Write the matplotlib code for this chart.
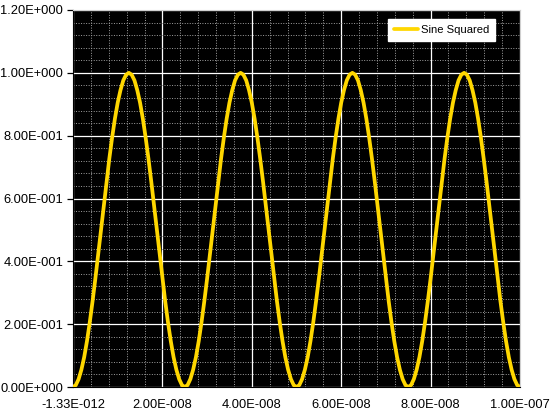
import numpy as np
import matplotlib.pyplot as plt
from matplotlib.ticker import FixedLocator, MultipleLocator

plt.rcParams['font.family'] = ['Liberation Sans', 'DejaVu Sans']

# sine squared samples, 4 periods over 0 .. 1e-7 s
x_start = 0.0
x_end = 1.0e-7
y_vals = [
    0, .006, .025, .055, .095, .146, .206, .273, .345, .422,
    .5, .578, .655, .727, .794, .854, .905, .945, .976, .994,
    1, .994, .976, .945, .905, .854, .794, .727, .655, .578,
    .5, .422, .345, .273, .206, .146, .095, .055, .025, .006,
    0, .006, .025, .055, .095, .146, .206, .273, .345, .422,
    .5, .578, .655, .727, .794, .854, .905, .945, .976, .994,
    1, .994, .976, .945, .905, .854, .794, .727, .655, .578,
    .5, .422, .345, .273, .206, .146, .095, .055, .025, .006,
    0, .006, .025, .055, .095, .146, .206, .273, .345, .422,
    .5, .578, .655, .727, .794, .854, .905, .945, .976, .994,
    1, .994, .976, .945, .905, .854, .794, .727, .655, .578,
    .5, .422, .345, .273, .206, .146, .095, .055, .025, .006,
    0, .006, .025, .055, .095, .146, .206, .273, .345, .422,
    .5, .578, .655, .727, .794, .854, .905, .945, .976, .994,
    1, .994, .976, .945, .905, .854, .794, .727, .655, .578,
    .5, .422, .345, .273, .206, .146, .095, .055, .025, .006,
    0,
]
x_vals = np.linspace(x_start, x_end, len(y_vals))

x_ticks = [-1.33e-12, 2e-8, 4e-8, 6e-8, 8e-8, 1e-7]
x_labels = ['-1.33E-012', '2.00E-008', '4.00E-008', '6.00E-008', '8.00E-008', '1.00E-007']
y_ticks = [0, 0.2, 0.4, 0.6, 0.8, 1.0, 1.2]
y_labels = ['0.00E+000', '2.00E-001', '4.00E-001', '6.00E-001', '8.00E-001', '1.00E+000', '1.20E+000']

fig = plt.figure(figsize=(5.53, 4.12), dpi=100)
ax = fig.add_axes([73 / 553, 25 / 412, 447 / 553, 377 / 412])
ax.set_facecolor('black')

ax.plot(x_vals, y_vals, color='#FFD700', linewidth=2.7, label='Sine Squared',
        solid_capstyle='round', zorder=3)

ax.set_xlim(x_ticks[0], x_end)
ax.set_ylim(0, 1.2)

ax.xaxis.set_major_locator(FixedLocator(x_ticks))
ax.set_xticklabels(x_labels)
ax.xaxis.set_minor_locator(MultipleLocator(4e-9))
ax.set_yticks(y_ticks)
ax.set_yticklabels(y_labels)
ax.yaxis.set_minor_locator(MultipleLocator(0.04))

ax.grid(which='major', color='white', linewidth=0.9, zorder=1)
ax.grid(which='minor', color='#a0a0a0', linewidth=0.7, linestyle=(0, (1, 1.6)), zorder=1)
ax.set_axisbelow(True)

ax.tick_params(axis='y', which='major', length=4, width=0.9, color='black',
               pad=3, labelsize=9.3)
ax.tick_params(axis='x', which='major', length=0, pad=9, labelsize=9.3)
ax.tick_params(which='minor', length=0)

for side in ['left', 'bottom']:
    ax.spines[side].set_color('black')
for side in ['top', 'right']:
    ax.spines[side].set_color('#d0d0d0')

leg = ax.legend(loc='upper left', bbox_to_anchor=((388 - 73) / 447, (387 - 19) / 377),
                borderaxespad=0, fontsize=8.1, frameon=True, fancybox=False,
                handlelength=2.1, borderpad=0.55, handletextpad=0.25)
leg.get_frame().set_facecolor('white')
leg.get_frame().set_edgecolor('white')
leg.get_frame().set_alpha(1)

fig.savefig('out.png', dpi=100)
